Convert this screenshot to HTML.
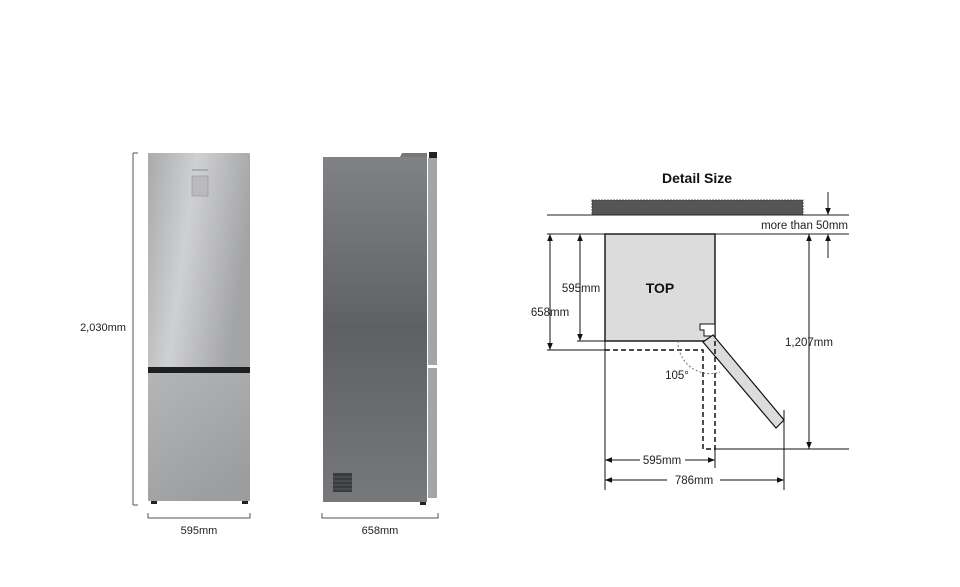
<!DOCTYPE html>
<html><head><style>
body{margin:0;background:#fff;}
svg{display:block;font-family:"Liberation Sans",sans-serif;}
</style></head><body>
<svg width="960" height="587" viewBox="0 0 960 587" xmlns="http://www.w3.org/2000/svg">
<defs>
<linearGradient id="fr" x1="0" y1="0" x2="1" y2="0.3">
<stop offset="0" stop-color="#a9aaac"/><stop offset="0.45" stop-color="#cfd0d2"/><stop offset="1" stop-color="#a3a4a6"/>
</linearGradient>
<linearGradient id="fr2" x1="0" y1="0" x2="0.6" y2="1">
<stop offset="0" stop-color="#b4b5b7"/><stop offset="1" stop-color="#9c9d9f"/>
</linearGradient>
<linearGradient id="sd" x1="0" y1="0" x2="0" y2="1">
<stop offset="0" stop-color="#808285"/><stop offset="0.5" stop-color="#5e6063"/><stop offset="1" stop-color="#76787b"/>
</linearGradient>
<marker id="ah" viewBox="0 0 10 10" refX="10" refY="5" markerWidth="7" markerHeight="7" orient="auto-start-reverse"><path d="M0,1 L10,5 L0,9z" fill="#111"/></marker>
</defs>
<!-- Front fridge -->
<line x1="133" y1="153" x2="133" y2="505" stroke="#555" stroke-width="1"/>
<line x1="133" y1="153" x2="138" y2="153" stroke="#555"/><line x1="133" y1="505" x2="138" y2="505" stroke="#555"/>
<text x="103" y="331" font-size="11" text-anchor="middle" fill="#222">2,030mm</text>
<rect x="148" y="153" width="102" height="214" fill="url(#fr)" rx="1"/>
<rect x="148" y="367" width="102" height="6" fill="#1e1f21"/>
<rect x="148" y="373" width="102" height="128" fill="url(#fr2)"/>
<rect x="192" y="176" width="16" height="20" fill="#b9babc" stroke="#9a9b9d" stroke-width="0.7"/>
<line x1="192" y1="170" x2="208" y2="170" stroke="#8a8b8d"/>
<rect x="151" y="501" width="6" height="3" fill="#222"/><rect x="242" y="501" width="6" height="3" fill="#222"/>
<path d="M148,513 V518 H250 V513" fill="none" stroke="#555"/>
<text x="199" y="534" font-size="11" text-anchor="middle" fill="#222">595mm</text>
<!-- Side fridge -->
<rect x="323" y="157" width="104" height="345" fill="url(#sd)"/>
<path d="M400,157 L402,153 L427,153 L427,157z" fill="#76787b"/>
<rect x="428" y="158" width="9" height="207" fill="#a4a5a7"/>
<rect x="428" y="368" width="9" height="130" fill="#a4a5a7"/>
<rect x="429" y="152" width="8" height="6" fill="#222"/>
<rect x="333" y="473" width="19" height="19" fill="#3a3b3d"/>
<g stroke="#777" stroke-width="0.6"><line x1="333" y1="477" x2="352" y2="477"/><line x1="333" y1="481" x2="352" y2="481"/><line x1="333" y1="485" x2="352" y2="485"/><line x1="333" y1="489" x2="352" y2="489"/></g>
<rect x="420" y="502" width="6" height="3" fill="#222"/>
<path d="M322,513 V518 H438 V513" fill="none" stroke="#555"/>
<text x="380" y="534" font-size="11" text-anchor="middle" fill="#222">658mm</text>
<!-- Detail -->
<text x="697" y="183" font-size="14" font-weight="bold" text-anchor="middle" fill="#111">Detail Size</text>
<rect x="592" y="200" width="211" height="15" fill="#555" stroke="#333" stroke-width="0.8" stroke-dasharray="2,1"/>
<g stroke="#222" stroke-width="1" fill="none">
<line x1="547" y1="215" x2="849" y2="215"/>
<line x1="547" y1="234" x2="849" y2="234"/>
<line x1="828" y1="192" x2="828" y2="215" marker-end="url(#ah)"/>
<line x1="828" y1="258" x2="828" y2="234" marker-end="url(#ah)"/>
</g>
<text x="848" y="229" font-size="11.5" text-anchor="end" fill="#222">more than 50mm</text>
<rect x="605" y="234" width="110" height="107" fill="#dcdcdc" stroke="#111" stroke-width="1.4"/>
<path d="M700,324 H715 V336 H704 V330 H700z" fill="#fff" stroke="#111" stroke-width="1"/>
<text x="660" y="293" font-size="14" font-weight="bold" text-anchor="middle" fill="#111">TOP</text>
<polygon points="703,342 713,335 784,420 776,428" fill="#dcdcdc" stroke="#111" stroke-width="1.2"/>
<g stroke="#111" stroke-width="1" fill="none">
<line x1="577" y1="341" x2="605" y2="341"/>
<line x1="580" y1="234" x2="580" y2="341" marker-start="url(#ah)" marker-end="url(#ah)"/>
<line x1="547" y1="350" x2="605" y2="350"/>
<line x1="550" y1="234" x2="550" y2="350" marker-start="url(#ah)" marker-end="url(#ah)"/>
<path d="M605,350 H703 V449 H715 V341" stroke-width="1.5" stroke-dasharray="5,3"/>
<path d="M678,341 A32,32 0 0 0 720,372" stroke="#777" stroke-dasharray="2,2"/>
<line x1="715" y1="449" x2="849" y2="449"/>
<line x1="809" y1="234" x2="809" y2="449" marker-start="url(#ah)" marker-end="url(#ah)"/>
<line x1="605" y1="341" x2="605" y2="490"/>
<line x1="715" y1="449" x2="715" y2="468"/>
<line x1="784" y1="410" x2="784" y2="490"/>
<line x1="605" y1="460" x2="640" y2="460" marker-start="url(#ah)"/>
<line x1="685" y1="460" x2="715" y2="460" marker-end="url(#ah)"/>
<line x1="605" y1="480" x2="667" y2="480" marker-start="url(#ah)"/>
<line x1="720" y1="480" x2="784" y2="480" marker-end="url(#ah)"/>
</g>
<text x="581" y="292" font-size="11.5" text-anchor="middle" fill="#222">595mm</text>
<text x="550" y="316" font-size="11.5" text-anchor="middle" fill="#222">658mm</text>
<text x="677" y="379" font-size="11.5" text-anchor="middle" fill="#222">105°</text>
<text x="809" y="346" font-size="11.5" text-anchor="middle" fill="#222">1,207mm</text>
<text x="662" y="464" font-size="11.5" text-anchor="middle" fill="#222">595mm</text>
<text x="694" y="484" font-size="11.5" text-anchor="middle" fill="#222">786mm</text>
</svg>
</body></html>
